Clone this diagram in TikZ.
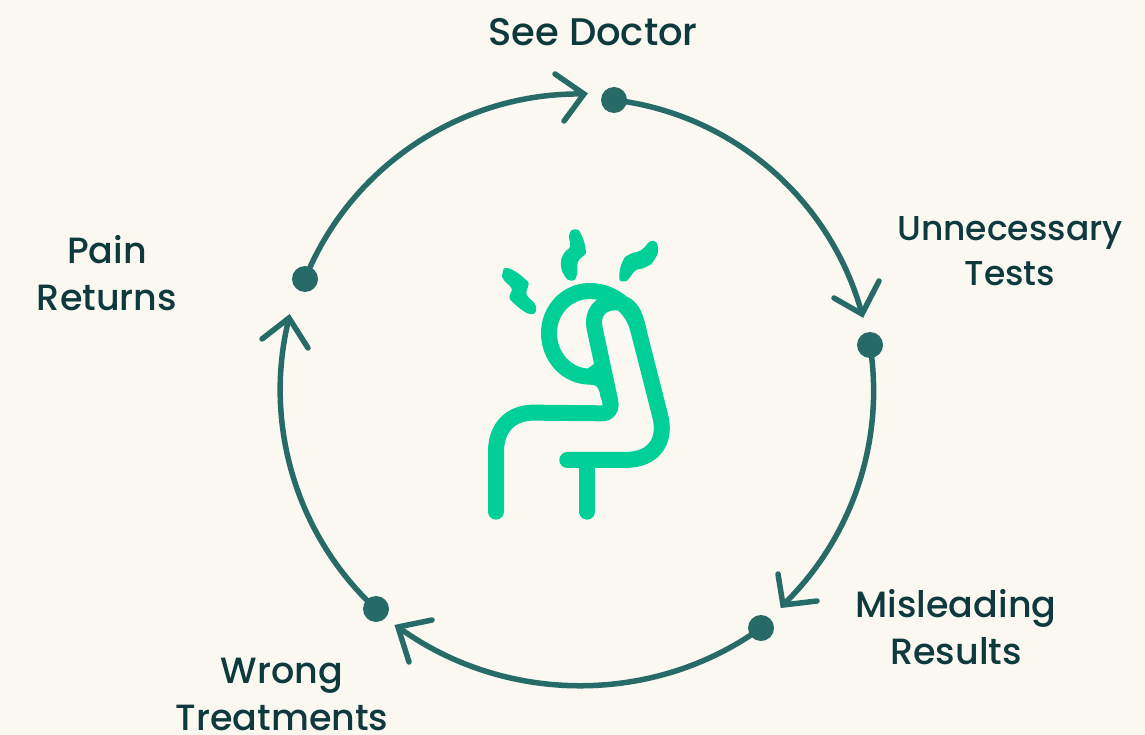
\documentclass[tikz,border=0pt]{standalone}
\usepackage{fontspec}
\setmainfont{Poppins Medium}
\definecolor{bgc}{HTML}{FBF8F1}
\definecolor{ringc}{HTML}{266B68}
\definecolor{textc}{HTML}{0E3A3E}
\definecolor{figc}{HTML}{00CF98}
\begin{document}
\begin{tikzpicture}[x=1pt,y=-1pt,
  dot/.style={circle,fill=ringc,inner sep=0pt,minimum size=26pt},
  ringline/.style={draw=ringc,line width=5.5pt},
  barb/.style={draw=ringc,line width=5.5pt,line cap=round,line join=miter},
  lab/.style={text=textc,font=\fontsize{36.5}{47}\selectfont,align=center,inner sep=0pt,text depth=0pt},
  figline/.style={draw=figc,line width=16pt,line cap=round,line join=round},
  squig/.style={fill=figc,draw=figc,line width=1.5pt,line join=round}]
\fill[bgc] (0,0) rectangle (1145,735);
\useasboundingbox (0,0) rectangle (1145,735);
% dots
\node[dot] (d1) at (614,100) {};
\node[dot] (d2) at (870,345) {};
\node[dot] (d3) at (761,628) {};
\node[dot] (d4) at (376,609) {};
\node[dot] (d5) at (305,279) {};
% arrow tips
\coordinate (t1) at (584,94);
\coordinate (t2) at (862,314);
\coordinate (t3) at (783,605);
\coordinate (t4) at (398,627);
\coordinate (t5) at (289,318);
\coordinate (b1a) at (555,74); \coordinate (b1b) at (564,121);
\coordinate (b2a) at (834,298); \coordinate (b2b) at (879,281);
\coordinate (b3a) at (778,574); \coordinate (b3b) at (817,601);
\coordinate (b4a) at (432,620); \coordinate (b4b) at (409,662);
\coordinate (b5a) at (262,339); \coordinate (b5b) at (308,348);
% connectors
\draw[ringline] (d1.center) to[bend left=34,looseness=.93] (t2);
\draw[ringline] (d2.center) to[bend left=27.5,looseness=.90] (t3);
\draw[ringline] (d3.center) to[bend left=36,looseness=.93] (t4);
\draw[ringline] (d4.center) to[bend left=30.7,looseness=.915] (t5);
\draw[ringline] (d5.center) to[bend left=34.6,looseness=.93] (t1);
\draw[barb] (b1a) -- (t1) -- (b1b);
\draw[barb] (b2a) -- (t2) -- (b2b);
\draw[barb] (b3a) -- (t3) -- (b3b);
\draw[barb] (b4a) -- (t4) -- (b4b);
\draw[barb] (b5a) -- (t5) -- (b5b);
% labels
\node[lab,font=\fontsize{38.5}{47}\selectfont] (l1) at (593,32) {See Doctor};
\node[lab,font=\fontsize{34.5}{45}\selectfont] (l2) at (1010,251) {Unnecessary\\Tests};
\node[lab] (l3) at (956,627) {Misleading\\Results};
\node[lab] (l4) at (282,694) {Wrong\\Treatments};
\node[lab] (l5) at (107,273) {Pain\\Returns};
% central figure (traced, zoom coordinates)
\begin{scope}[shift={(470,220)},x=0.3333pt,y=-0.3333pt]
\draw[figline] (78,875) -- (78,695) .. controls (78,620) and (125,578) .. (190,578) -- (395,580)
  .. controls (422,580) and (425,560) .. (420,540) -- (375,330)
  .. controls (362,275) and (395,247) .. (435,247)
  .. controls (480,247) and (495,280) .. (505,330) -- (570,585)
  .. controls (590,660) and (555,720) .. (465,720) -- (292,720);
\draw[figline] (352,720) -- (352,875);
\draw[figline] (505,330) .. controls (490,265) and (430,213) .. (360,213)
  .. controls (290,213) and (237,270) .. (237,340)
  .. controls (237,410) and (290,470) .. (360,470)
  .. controls (395,470) and (410,490) .. (415,525);
\fill[figc] (372,432) -- (408,432) -- (425,530) -- (395,530) -- (375,480) -- (350,448) -- cycle;
\draw[squig] plot[smooth cycle,tension=.9] coordinates {(100,160) (115,147) (165,180) (172,200) (168,225) (195,258) (180,280) (130,245) (122,225) (127,205) (103,178)};
\draw[squig] plot[smooth cycle,tension=.9] coordinates {(300,45) (315,30) (332,45) (345,90) (340,105) (322,125) (318,165) (305,180) (285,165) (275,130) (285,100) (302,80)};
\draw[squig] plot[smooth cycle,tension=.9] coordinates {(450,170) (460,125) (480,105) (515,92) (545,65) (562,85) (550,120) (525,140) (495,150) (475,175) (460,182)};
\end{scope}
\end{tikzpicture}
\end{document}
